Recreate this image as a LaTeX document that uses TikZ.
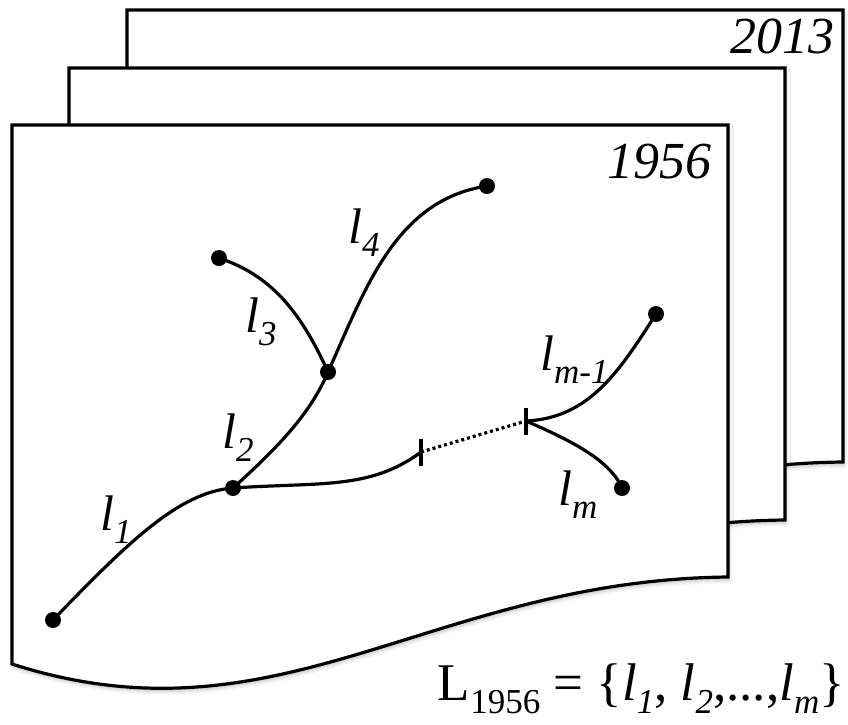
\documentclass[tikz,border=0pt]{standalone}
\usepackage{fontspec}
\setmainfont{Liberation Serif}
\usetikzlibrary{shadows.blur}
\newcommand{\lsub}[1]{\raisebox{-13pt}{\fontsize{35}{40}\selectfont #1}}
\newcommand{\seg}[1]{\textit{l\lsub{#1}}}

\begin{document}
\begin{tikzpicture}[x=1pt, y=-1pt,
  sheet/.style={draw=black, line width=3.2pt, fill=white,
                blur shadow={shadow xshift=1pt, shadow yshift=-3pt, shadow blur radius=4pt, shadow opacity=25}},
  dot/.style={circle, fill=black, minimum size=16pt, inner sep=0pt},
  cut/.style={rectangle, fill=black, minimum width=4pt, minimum height=27pt, inner sep=0pt},
  road/.style={line width=3.2pt, line cap=round},
  gap/.style={line width=3.2pt, dash pattern=on 3pt off 3pt},
  seglbl/.style={anchor=base west, inner sep=0pt, font=\fontsize{50}{56}\selectfont},
  yearlbl/.style={anchor=base east, inner sep=0pt, font=\fontsize{52}{60}\selectfont\itshape}
]
  \useasboundingbox (0,0) rectangle (848,724);

  \foreach \dx/\dy in {115/-115, 57/-57, 0/0}
    \draw[sheet, shift={(\dx,\dy)}] (12,125) -- (728,125) -- (728,577)
      .. controls (430,580) and (280,750) .. (12,664) -- cycle;

  \node[yearlbl] (y2013) at (835,53) {2013};
  \node[yearlbl] (y1956) at (712,178) {1956};

  \node[dot] (p1) at (53,620) {};
  \node[dot] (p2) at (233,488) {};
  \node[dot] (p3) at (328,372) {};
  \node[dot] (p4) at (219,258) {};
  \node[dot] (p5) at (487,186) {};
  \node[dot] (p6) at (656,314) {};
  \node[dot] (p7) at (622,488) {};
  \node[cut] (c1) at (421,452) {};
  \node[cut] (c2) at (526,421) {};

  \draw[road] (p1.center) .. controls (130,540) and (180,492) .. (p2.center);
  \draw[road] (p2.center) .. controls (275,450) and (310,415) .. (p3.center);
  \draw[road] (p3.center) .. controls (300,310) and (270,275) .. (p4.center);
  \draw[road] (p3.center) .. controls (365,290) and (395,200) .. (p5.center);
  \draw[road] (p2.center) .. controls (320,482) and (370,490) .. (c1.center);
  \draw[gap] (c1.center) -- (c2.center);
  \draw[road] (c2.center) .. controls (590,418) and (620,370) .. (p6.center);
  \draw[road] (c2.center) .. controls (570,440) and (610,460) .. (p7.center);

  \node[seglbl] (l1) at (100,530) {\seg{1}};
  \node[seglbl] (l2) at (222,448) {\seg{2}};
  \node[seglbl] (l3) at (245,332) {\seg{3}};
  \node[seglbl] (l4) at (348,243) {\seg{4}};
  \node[seglbl] (lm1) at (540,370) {\seg{m-1}};
  \node[seglbl] (lm) at (558,505) {\seg{m}};

  \node[anchor=base east, inner sep=0pt, font=\fontsize{53}{60}\selectfont] (lset) at (845,700)
    {L\lsub{1956} = \{\seg{1}, \seg{2},...,\seg{m}\}};
\end{tikzpicture}
\end{document}
